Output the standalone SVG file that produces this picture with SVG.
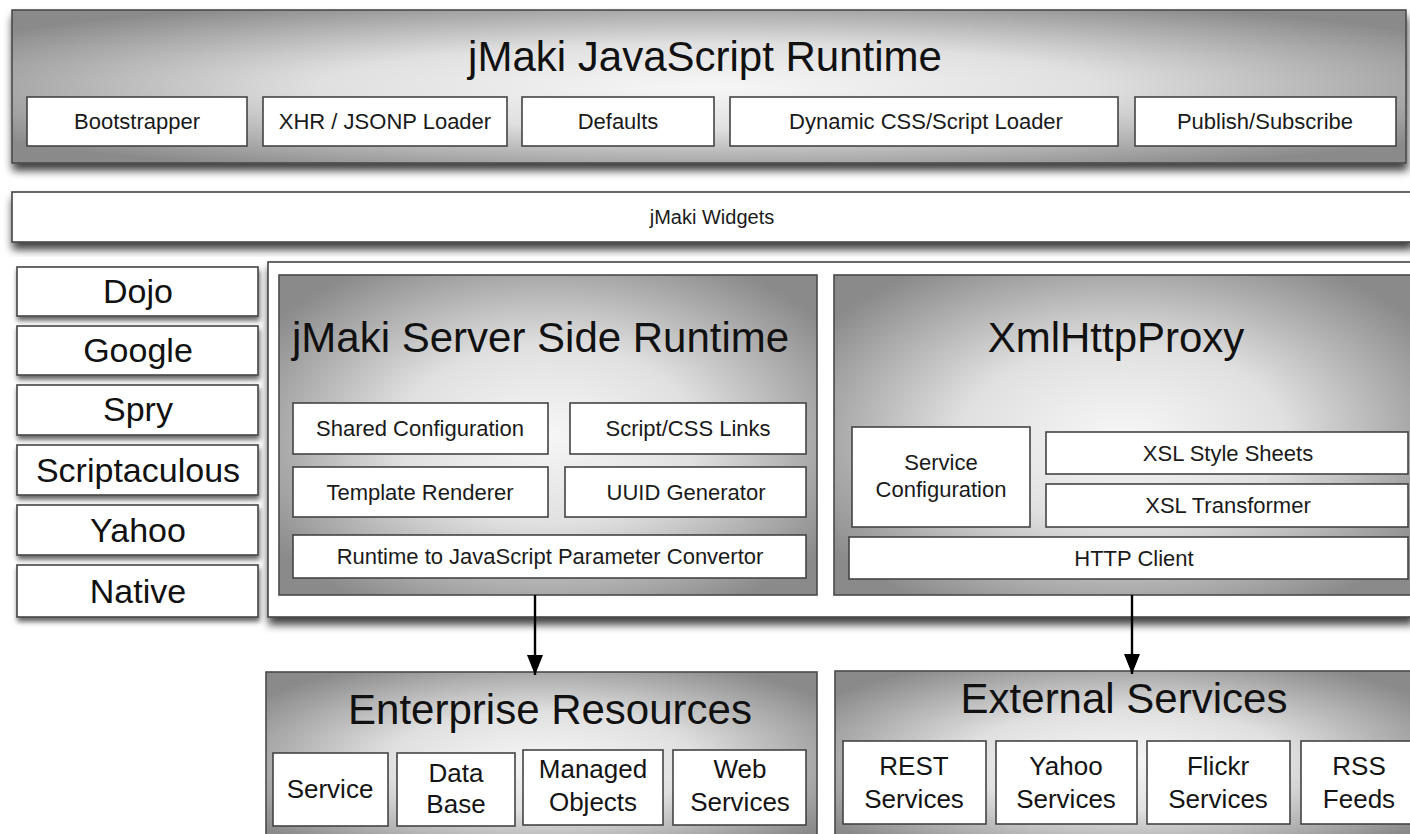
<svg xmlns="http://www.w3.org/2000/svg" width="1410" height="834" viewBox="0 0 1410 834">
<style>
text{font-family:"Liberation Sans",Arial,Helvetica,sans-serif;fill:#111;text-anchor:middle}
.big{font-size:42px}
.sm{font-size:22px;fill:#1a1a1a}
.wd{font-size:20px;fill:#1a1a1a}
.lib{font-size:34px}
.bt{font-size:26px;fill:#141414}
.panel{fill:url(#gr);stroke:#4a4a4a;stroke-width:1.6}
.box{fill:#fff;stroke:#444;stroke-width:1.6}
.wbox{fill:#fff;stroke:#444;stroke-width:1.6}
.conn{stroke:#000;stroke-width:2.4;fill:none}
</style>
<defs>
<radialGradient id="gr" cx="0.5" cy="0.5" r="0.62">
<stop offset="0" stop-color="#f6f6f6"/>
<stop offset="0.45" stop-color="#e0e0e0"/>
<stop offset="1" stop-color="#8a8a8a"/>
</radialGradient>
<filter id="sh" x="-5%" y="-10%" width="110%" height="140%">
<feDropShadow dx="1" dy="7" stdDeviation="4" flood-color="#000" flood-opacity="0.75"/>
</filter>
<filter id="sh2" x="-5%" y="-10%" width="110%" height="140%">
<feDropShadow dx="1" dy="4" stdDeviation="2.5" flood-color="#000" flood-opacity="0.6"/>
</filter>
<marker id="ah" viewBox="0 0 20 16" refX="20" refY="8" markerWidth="20" markerHeight="16" markerUnits="userSpaceOnUse" orient="auto">
<path d="M0,0 L20,8 L0,16 Z" fill="#000"/>
</marker>
</defs>
<rect width="1410" height="834" fill="#fff"/>

<g id="js-runtime">
<rect class="panel" x="12" y="10" width="1394" height="153" filter="url(#sh)"/>
<text class="big" x="705" y="71">jMaki JavaScript Runtime</text>
<g id="bootstrapper"><rect class="box" x="27" y="97" width="220" height="49"/><text class="sm" x="137" y="129">Bootstrapper</text></g>
<g id="xhr-loader"><rect class="box" x="263" y="97" width="244" height="49"/><text class="sm" x="385" y="129">XHR / JSONP Loader</text></g>
<g id="defaults"><rect class="box" x="522" y="97" width="192" height="49"/><text class="sm" x="618" y="129">Defaults</text></g>
<g id="dyn-loader"><rect class="box" x="730" y="97" width="388" height="49"/><text class="sm" x="926" y="129">Dynamic CSS/Script Loader</text></g>
<g id="pubsub"><rect class="box" x="1135" y="97" width="261" height="49"/><text class="sm" x="1265" y="129">Publish/Subscribe</text></g>
</g>

<g id="widgets">
<rect class="wbox" x="12" y="192" width="1400" height="50" filter="url(#sh)"/>
<text class="wd" x="712" y="224">jMaki Widgets</text>
</g>

<g id="libraries">
<g id="dojo"><rect class="wbox" x="17" y="267" width="241" height="49" filter="url(#sh2)"/><text class="lib" x="138" y="303">Dojo</text></g>
<g id="google"><rect class="wbox" x="17" y="326" width="241" height="49" filter="url(#sh2)"/><text class="lib" x="138" y="362">Google</text></g>
<g id="spry"><rect class="wbox" x="17" y="385" width="241" height="50" filter="url(#sh2)"/><text class="lib" x="138" y="421">Spry</text></g>
<g id="scriptaculous"><rect class="wbox" x="17" y="445" width="241" height="50" filter="url(#sh2)"/><text class="lib" x="138" y="482">Scriptaculous</text></g>
<g id="yahoo"><rect class="wbox" x="17" y="505" width="241" height="50" filter="url(#sh2)"/><text class="lib" x="138" y="542">Yahoo</text></g>
<g id="native"><rect class="wbox" x="17" y="565" width="241" height="52" filter="url(#sh2)"/><text class="lib" x="138" y="603">Native</text></g>
</g>

<g id="server-container">
<rect class="wbox" x="268" y="262" width="1144" height="355" filter="url(#sh)"/>
</g>

<g id="server-runtime">
<rect class="panel" x="279" y="275" width="538" height="320"/>
<text class="big" x="292" y="352" style="text-anchor:start">jMaki Server Side Runtime</text>
<g id="shared-config"><rect class="box" x="293" y="403" width="255" height="51"/><text class="sm" x="420" y="436">Shared Configuration</text></g>
<g id="script-css"><rect class="box" x="570" y="403" width="236" height="51"/><text class="sm" x="688" y="436">Script/CSS Links</text></g>
<g id="template"><rect class="box" x="293" y="467" width="255" height="50"/><text class="sm" x="420" y="500">Template Renderer</text></g>
<g id="uuid"><rect class="box" x="565" y="467" width="241" height="50"/><text class="sm" x="686" y="500">UUID Generator</text></g>
<g id="param-conv"><rect class="box" x="293" y="535" width="513" height="43"/><text class="sm" x="550" y="564">Runtime to JavaScript Parameter Convertor</text></g>
</g>

<g id="xmlhttpproxy">
<rect class="panel" x="834" y="275" width="578" height="320"/>
<text class="big" x="1116" y="352">XmlHttpProxy</text>
<g id="service-config"><rect class="box" x="852" y="427" width="178" height="100"/><text class="sm" x="941" y="470">Service</text><text class="sm" x="941" y="497">Configuration</text></g>
<g id="xsl-sheets"><rect class="box" x="1046" y="432" width="362" height="42"/><text class="sm" x="1228" y="461">XSL Style Sheets</text></g>
<g id="xsl-transformer"><rect class="box" x="1046" y="484" width="362" height="43"/><text class="sm" x="1228" y="513">XSL Transformer</text></g>
<g id="http-client"><rect class="box" x="849" y="537" width="559" height="42"/><text class="sm" x="1134" y="566">HTTP Client</text></g>
</g>

<g id="enterprise">
<rect class="panel" x="266" y="672" width="551" height="180"/>
<text class="big" x="550" y="724">Enterprise Resources</text>
<g id="service"><rect class="box" x="273" y="753" width="115" height="73"/><text class="bt" x="330" y="798">Service</text></g>
<g id="database"><rect class="box" x="397" y="753" width="118" height="73"/><text class="bt" x="456" y="782">Data</text><text class="bt" x="456" y="813">Base</text></g>
<g id="managed"><rect class="box" x="523" y="750" width="140" height="75"/><text class="bt" x="593" y="778">Managed</text><text class="bt" x="593" y="811">Objects</text></g>
<g id="webservices"><rect class="box" x="673" y="750" width="133" height="75"/><text class="bt" x="740" y="778">Web</text><text class="bt" x="740" y="811">Services</text></g>
</g>

<g id="external">
<rect class="panel" x="835" y="671" width="580" height="180"/>
<text class="big" x="1124" y="713">External Services</text>
<g id="rest"><rect class="box" x="843" y="741" width="143" height="83"/><text class="bt" x="914" y="775">REST</text><text class="bt" x="914" y="808">Services</text></g>
<g id="yahoo-svc"><rect class="box" x="996" y="741" width="141" height="83"/><text class="bt" x="1066" y="775">Yahoo</text><text class="bt" x="1066" y="808">Services</text></g>
<g id="flickr"><rect class="box" x="1147" y="741" width="143" height="83"/><text class="bt" x="1218" y="775">Flickr</text><text class="bt" x="1218" y="808">Services</text></g>
<g id="rss"><rect class="box" x="1301" y="741" width="120" height="83"/><text class="bt" x="1359" y="775">RSS</text><text class="bt" x="1359" y="808">Feeds</text></g>
</g>

<g id="connectors">
<line class="conn" x1="535" y1="595" x2="535" y2="675" marker-end="url(#ah)"/>
<line class="conn" x1="1132" y1="595" x2="1132" y2="674" marker-end="url(#ah)"/>
</g>
</svg>
